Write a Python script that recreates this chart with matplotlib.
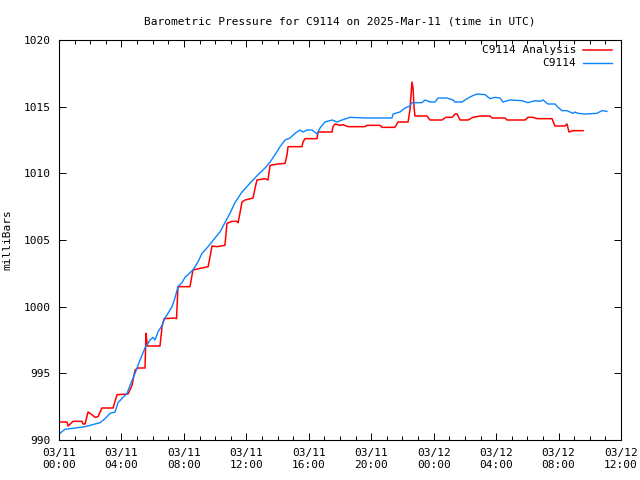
import matplotlib
matplotlib.use("Agg")
import matplotlib.pyplot as plt
import matplotlib.dates as mdates
from matplotlib.lines import Line2D
import pandas as pd

start = pd.Timestamp("2025-03-11 00:00")

# C9114 observed (hours since start, mb)
obs_hours = [0.06, 0.38, 1.03, 1.67, 2.31, 2.63, 2.95, 3.27, 3.59, 3.78, 4.10, 4.36, 4.55, 4.87,
             5.19, 5.51, 5.83, 6.02, 6.15, 6.34, 6.60, 6.79, 6.98, 7.24, 7.43, 7.62, 7.88, 8.07,
             8.26, 8.58, 8.90, 9.16, 9.55, 9.99, 10.31, 10.63, 10.95, 11.27, 11.47, 11.72, 12.11,
             12.43, 12.75, 13.20, 13.52, 13.84, 14.16, 14.48, 14.80, 15.12, 15.44, 15.63, 15.89,
             16.21, 16.53, 16.72, 17.04, 17.49, 17.81, 18.13, 18.64, 19.60, 20.11, 21.33, 21.40,
             21.84, 22.16, 22.48, 22.61, 23.25, 23.45, 23.77, 24.09, 24.28, 24.85, 25.24, 25.37,
             25.82, 26.14, 26.46, 26.78, 27.29, 27.61, 27.93, 28.25, 28.44, 28.89, 29.66, 30.04,
             30.49, 30.81, 31.00, 31.32, 31.77, 31.97, 32.22, 32.54, 32.73, 32.93, 33.05, 33.25,
             33.69, 34.46, 34.78, 35.10]
obs_mb = [990.5, 990.8, 990.9, 991.0, 991.2, 991.3, 991.6, 992.0, 992.1, 992.8, 993.2, 993.5, 994.1, 995.0,
          996.0, 996.9, 997.5, 997.7, 997.5, 998.1, 998.6, 999.15, 999.5, 1000.0, 1000.65, 1001.5, 1001.8, 1002.2,
          1002.4, 1002.75, 1003.35, 1004.0, 1004.5, 1005.15, 1005.6, 1006.3, 1007.0, 1007.8, 1008.15, 1008.6, 1009.1,
          1009.5, 1009.9, 1010.4, 1010.85, 1011.4, 1012.0, 1012.5, 1012.65, 1013.0, 1013.25, 1013.1, 1013.25,
          1013.25, 1012.95, 1013.4, 1013.85, 1014.0, 1013.85, 1014.0, 1014.2, 1014.15, 1014.15, 1014.15, 1014.45,
          1014.6, 1014.9, 1015.05, 1015.3, 1015.3, 1015.5, 1015.35, 1015.35, 1015.65, 1015.65, 1015.5, 1015.35,
          1015.35, 1015.6, 1015.8, 1015.95, 1015.9, 1015.6, 1015.7, 1015.65, 1015.35, 1015.5, 1015.45, 1015.3,
          1015.45, 1015.4, 1015.5, 1015.2, 1015.2, 1014.95, 1014.7, 1014.7, 1014.6, 1014.5, 1014.6, 1014.5,
          1014.45, 1014.5, 1014.7, 1014.65]

# C9114 Analysis (hours since start, mb)
ana_hours = [0.06, 0.51, 0.58, 0.90, 1.47, 1.54, 1.67, 1.86, 2.11, 2.31, 2.50, 2.75, 3.46, 3.72,
             4.42, 4.68, 4.87, 5.06, 5.38, 5.51, 5.57, 5.64, 5.67, 6.47, 6.60, 6.73, 7.43, 7.53,
             7.62, 8.39, 8.58, 9.55, 9.67, 9.80, 10.12, 10.63, 10.76, 11.08, 11.40, 11.47, 11.59,
             11.72, 11.92, 12.43, 12.56, 12.68, 13.20, 13.39, 13.52, 14.03, 14.48, 14.61, 14.67,
             15.57, 15.63, 15.76, 16.53, 16.59, 17.49, 17.55, 17.68, 18.00, 18.19, 18.51, 19.60,
             19.73, 20.56, 20.69, 21.52, 21.72, 22.36, 22.48, 22.61, 22.68, 22.74, 22.80, 23.57,
             23.77, 24.53, 24.79, 25.18, 25.37, 25.50, 25.69, 26.20, 26.52, 26.97, 27.61, 27.74,
             28.57, 28.70, 29.85, 30.04, 30.36, 30.62, 31.58, 31.77, 32.41, 32.54, 32.67, 32.93,
             33.57]
ana_mb = [991.35, 991.35, 991.05, 991.4, 991.4, 991.2, 991.2, 992.1, 991.9, 991.7, 991.75, 992.4, 992.4, 993.4,
          993.45, 994.1, 995.25, 995.4, 995.4, 995.4, 998.0, 997.3, 997.05, 997.05, 998.5, 999.1, 999.15, 999.1,
          1001.5, 1001.5, 1002.75, 1003.0, 1003.7, 1004.55, 1004.5, 1004.6, 1006.25, 1006.4, 1006.4, 1006.3, 1007.0,
          1007.85, 1008.0, 1008.15, 1008.9, 1009.5, 1009.6, 1009.5, 1010.6, 1010.7, 1010.75, 1011.4, 1012.0,
          1012.0, 1012.35, 1012.6, 1012.6, 1013.1, 1013.1, 1013.5, 1013.7, 1013.6, 1013.65, 1013.5, 1013.5,
          1013.6, 1013.6, 1013.45, 1013.45, 1013.85, 1013.85, 1014.75, 1016.85, 1016.4, 1015.0, 1014.3, 1014.3,
          1014.0, 1014.0, 1014.2, 1014.2, 1014.45, 1014.45, 1014.0, 1014.0, 1014.2, 1014.3, 1014.3, 1014.15,
          1014.15, 1014.0, 1014.0, 1014.2, 1014.2, 1014.1, 1014.1, 1013.55, 1013.55, 1013.7, 1013.1, 1013.2,
          1013.2]

title = "Barometric Pressure for C9114 on 2025-Mar-11 (time in UTC)"
ylabel = "milliBars"
ana_label = "C9114 Analysis"
obs_label = "C9114"
yticks = [990, 995, 1000, 1005, 1010, 1015, 1020]

FS = 8
plt.rcParams['font.family'] = ['DejaVu Sans Mono']
plt.rcParams['font.size'] = FS

obs_t = [start + pd.Timedelta(hours=h) for h in obs_hours]
ana_t = [start + pd.Timedelta(hours=h) for h in ana_hours]

fig = plt.figure(figsize=(6.4, 4.8), dpi=100)
ax = fig.add_axes([59/640, 40/480, 562/640, 400/480])

red = '#ff0000'
blue = '#0a84ff'
ax.plot(ana_t, ana_mb, color=red, lw=1.1)
ax.plot(obs_t, obs_mb, color=blue, lw=1.0)

ax.set_xlim(start, start + pd.Timedelta(hours=36))
ax.set_ylim(990, 1020)
ax.set_yticks(yticks)
ax.set_yticklabels([str(v) for v in yticks])
ax.xaxis.set_major_locator(mdates.HourLocator(byhour=range(0, 24, 4)))
ax.xaxis.set_minor_locator(mdates.HourLocator())
ax.xaxis.set_major_formatter(mdates.DateFormatter("%m/%d\n%H:%M"))

ax.tick_params(which='both', direction='in', top=True, right=True, width=0.7, color='black', labelsize=FS)
ax.tick_params(which='major', length=5, pad=6)
ax.tick_params(which='minor', length=3)
for s in ax.spines.values():
    s.set_linewidth(0.8)

ax.set_title(title, fontsize=FS, pad=11)
ax.set_ylabel(ylabel, fontsize=FS, labelpad=8)

# legend (gnuplot style: text right-aligned, sample to the right)
ax.text(0.92, 0.975, ana_label, transform=ax.transAxes, ha='right', va='center', fontsize=FS)
ax.add_line(Line2D([0.932, 0.984], [0.975, 0.975], transform=ax.transAxes, color=red, lw=1.1))
ax.text(0.92, 0.9425, obs_label, transform=ax.transAxes, ha='right', va='center', fontsize=FS)
ax.add_line(Line2D([0.932, 0.984], [0.9425, 0.9425], transform=ax.transAxes, color=blue, lw=1.0))

fig.savefig("out.png", dpi=100)
